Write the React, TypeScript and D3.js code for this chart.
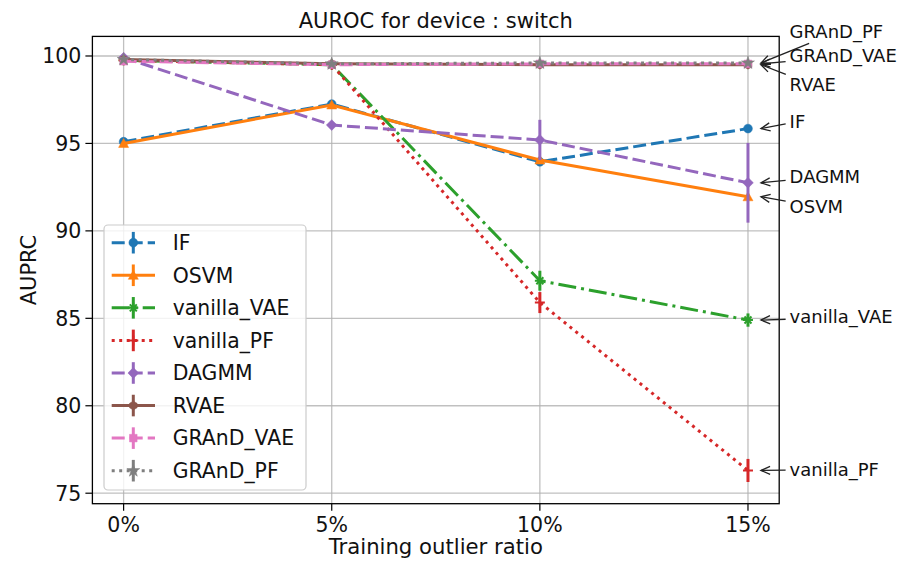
import React, { useEffect, useRef } from "react";
import * as d3 from "d3";

const ratios = [0, 5, 10, 15];
const xTickLabels = ["0%", "5%", "10%", "15%"];
const yTicks = [75, 80, 85, 90, 95, 100];

const ifMean = [95.1, 97.25, 93.95, 95.85];
const ifErr = [0.1, 0.1, 0.1, 0.1];
const osvmMean = [95.0, 97.2, 94.05, 91.95];
const osvmErr = [0.05, 0.05, 0.05, 0.05];
const vvaeMean = [99.75, 99.5, 87.15, 84.9];
const vvaeErr = [0.05, 0.05, 0.57, 0.38];
const vpfMean = [99.75, 99.5, 85.9, 76.3];
const vpfErr = [0.05, 0.05, 0.6, 0.66];
const dagmmMean = [99.9, 96.05, 95.2, 92.75];
const dagmmErr = [0.1, 0.2, 1.15, 2.28];
const rvaeMean = [99.8, 99.55, 99.5, 99.5];
const rvaeErr = [0.05, 0.05, 0.05, 0.05];
const gvaeMean = [99.7, 99.5, 99.55, 99.55];
const gvaeErr = [0.05, 0.05, 0.05, 0.05];
const gpfMean = [99.8, 99.55, 99.6, 99.6];
const gpfErr = [0.05, 0.05, 0.05, 0.05];

const seriesNames = ["IF", "OSVM", "vanilla_VAE", "vanilla_PF", "DAGMM", "RVAE", "GRAnD_VAE", "GRAnD_PF"];
const seriesMeans = [ifMean, osvmMean, vvaeMean, vpfMean, dagmmMean, rvaeMean, gvaeMean, gpfMean];
const seriesErrs = [ifErr, osvmErr, vvaeErr, vpfErr, dagmmErr, rvaeErr, gvaeErr, gpfErr];
const seriesColors = ["#1f77b4", "#ff7f0e", "#2ca02c", "#d62728", "#9467bd", "#8c564b", "#e377c2", "#7f7f7f"];
const seriesDash = ["13,5", null, "18,5,3,5", "3,4.5", "13,5", null, "13,5", "3,4.5"];
const seriesMarker = ["circle", "triangle", "asterisk", "plus", "diamond", "hexagon", "square", "star"];

// annotation label vertical positions (data units) in the right margin
const annotNames = ["GRAnD_PF", "GRAnD_VAE", "RVAE", "IF", "DAGMM", "OSVM", "vanilla_VAE", "vanilla_PF"];
const annotLabelY = [101.39, 100.0, 98.34, 96.24, 93.1, 91.38, 85.08, 76.37];

const W = 901, H = 562;
const FONT = "DejaVu Sans, sans-serif";

function markerPath(type: string): { d: string; fill: boolean } {
  const r = 4.4;
  switch (type) {
    case "circle":
      return { d: d3.symbol(d3.symbolCircle, Math.PI * r * r)() as string, fill: true };
    case "triangle": {
      const s = 5;
      return { d: `M0,${-s}L${s},${s * 0.8}L${-s},${s * 0.8}Z`, fill: true };
    }
    case "diamond": {
      const s = 5.4;
      return { d: `M0,${-s}L${s},0L0,${s}L${-s},0Z`, fill: true };
    }
    case "square": {
      const s = 3.8;
      return { d: `M${-s},${-s}H${s}V${s}H${-s}Z`, fill: true };
    }
    case "star":
      return { d: d3.symbol(d3.symbolStar, 52)() as string, fill: true };
    case "hexagon": {
      const pts = d3.range(6).map((i) => {
        const a = (Math.PI / 3) * i + Math.PI / 6;
        return [Math.cos(a) * 4.4, Math.sin(a) * 4.4];
      });
      return { d: "M" + pts.map((p) => p.join(",")).join("L") + "Z", fill: true };
    }
    case "plus": {
      const s = 5;
      return { d: `M${-s},0H${s}M0,${-s}V${s}`, fill: false };
    }
    case "asterisk": {
      const s = 5;
      const c = s * 0.7;
      return { d: `M${-s},0H${s}M0,${-s}V${s}M${-c},${-c}L${c},${c}M${-c},${c}L${c},${-c}`, fill: false };
    }
  }
  return { d: "", fill: true };
}

export default function App() {
  const ref = useRef<SVGSVGElement | null>(null);

  useEffect(() => {
    const svg = d3.select(ref.current);
    svg.selectAll("*").remove();

    const left = 92.4, right = 779.2, top = 36.4, bottom = 503.7;
    const x = d3.scaleLinear().domain([-0.75, 15.75]).range([left, right]);
    const y = d3.scaleLinear().domain([74.4, 101.12]).range([bottom, top]);

    svg.append("rect").attr("width", W).attr("height", H).attr("fill", "white");

    const g = svg.append("g");
    // grid
    ratios.forEach((r) => {
      g.append("line").attr("x1", x(r)).attr("x2", x(r)).attr("y1", top).attr("y2", bottom)
        .attr("stroke", "#b0b0b0").attr("stroke-width", 1.3).attr("stroke-opacity", 0.8);
    });
    yTicks.forEach((t) => {
      g.append("line").attr("x1", left).attr("x2", right).attr("y1", y(t)).attr("y2", y(t))
        .attr("stroke", "#b0b0b0").attr("stroke-width", 1.3).attr("stroke-opacity", 0.8);
    });

    // series
    const line = d3.line<number>().x((_, i) => x(ratios[i])).y((v) => y(v));
    seriesNames.forEach((name, si) => {
      const color = seriesColors[si];
      const means = seriesMeans[si];
      const errs = seriesErrs[si];
      const sg = g.append("g");
      sg.append("path").attr("d", line(means) as string).attr("fill", "none")
        .attr("stroke", color).attr("stroke-width", 3)
        .attr("stroke-dasharray", seriesDash[si] ?? null);
      means.forEach((m, i) => {
        sg.append("line").attr("x1", x(ratios[i])).attr("x2", x(ratios[i]))
          .attr("y1", y(m - errs[i])).attr("y2", y(m + errs[i]))
          .attr("stroke", color).attr("stroke-width", 3);
      });
      const mk = markerPath(seriesMarker[si]);
      means.forEach((m, i) => {
        sg.append("path").attr("d", mk.d)
          .attr("transform", `translate(${x(ratios[i])},${y(m)})`)
          .attr("fill", mk.fill ? color : "none")
          .attr("stroke", color).attr("stroke-width", mk.fill ? 0.5 : 2);
      });
    });

    // axes frame
    svg.append("rect").attr("x", left).attr("y", top).attr("width", right - left).attr("height", bottom - top)
      .attr("fill", "none").attr("stroke", "black").attr("stroke-width", 1.3);

    // ticks
    ratios.forEach((r, i) => {
      svg.append("line").attr("x1", x(r)).attr("x2", x(r)).attr("y1", bottom).attr("y2", bottom + 7)
        .attr("stroke", "black").attr("stroke-width", 1.2);
      svg.append("text").attr("x", x(r)).attr("y", bottom + 28).attr("text-anchor", "middle")
        .attr("font-family", FONT).attr("font-size", 20.5).attr("fill", "#111").text(xTickLabels[i]);
    });
    yTicks.forEach((t) => {
      svg.append("line").attr("x1", left - 7).attr("x2", left).attr("y1", y(t)).attr("y2", y(t))
        .attr("stroke", "black").attr("stroke-width", 1.2);
      svg.append("text").attr("x", left - 11).attr("y", y(t)).attr("dy", "0.36em").attr("text-anchor", "end")
        .attr("font-family", FONT).attr("font-size", 20.5).attr("fill", "#111").text(String(t));
    });

    // labels
    svg.append("text").attr("x", (left + right) / 2).attr("y", 28).attr("text-anchor", "middle")
      .attr("font-family", FONT).attr("font-size", 21).attr("fill", "#111").text("AUROC for device : switch");
    svg.append("text").attr("x", (left + right) / 2).attr("y", 554).attr("text-anchor", "middle")
      .attr("font-family", FONT).attr("font-size", 21.2).attr("fill", "#111").text("Training outlier ratio");
    svg.append("text").attr("transform", `translate(36,${(top + bottom) / 2}) rotate(-90)`)
      .attr("text-anchor", "middle")
      .attr("font-family", FONT).attr("font-size", 21).attr("fill", "#111").text("AUPRC");

    // legend
    const lg = svg.append("g");
    const lx = 104, ly = 225, lw = 202, lh = 265;
    lg.append("rect").attr("x", lx).attr("y", ly).attr("width", lw).attr("height", lh).attr("rx", 4)
      .attr("fill", "white").attr("fill-opacity", 0.8).attr("stroke", "#cccccc").attr("stroke-width", 1.2);
    seriesNames.forEach((name, si) => {
      const cy = 242.7 + si * 32.57;
      const color = seriesColors[si];
      lg.append("line").attr("x1", 111.7).attr("x2", 155).attr("y1", cy).attr("y2", cy)
        .attr("stroke", color).attr("stroke-width", 3).attr("stroke-dasharray", seriesDash[si] ?? null);
      lg.append("line").attr("x1", 133.3).attr("x2", 133.3).attr("y1", cy - 10.8).attr("y2", cy + 10.8)
        .attr("stroke", color).attr("stroke-width", 3);
      const mk = markerPath(seriesMarker[si]);
      lg.append("path").attr("d", mk.d).attr("transform", `translate(133.3,${cy})`)
        .attr("fill", mk.fill ? color : "none").attr("stroke", color).attr("stroke-width", mk.fill ? 0.5 : 2);
      lg.append("text").attr("x", 172.7).attr("y", cy).attr("dy", "0.36em")
        .attr("font-family", FONT).attr("font-size", 20.4).attr("fill", "#111").text(name);
    });

    // annotations
    const ag = svg.append("g");
    const lastIdx = ratios.length - 1;
    annotNames.forEach((name, ai) => {
      const si = seriesNames.indexOf(name);
      const py = y(seriesMeans[si][lastIdx]);
      const tipX = x(ratios[lastIdx]) + 13;
      const tx = x(16.0);
      const ty = y(annotLabelY[ai]);
      const t = ag.append("text").attr("x", tx).attr("y", ty).attr("dy", "0.36em")
        .attr("font-family", FONT).attr("font-size", 18).attr("fill", "#111").text(name);
      const bb = (t.node() as SVGTextElement).getBBox();
      const cx = bb.x + bb.width / 2, cy = bb.y + bb.height / 2;
      const dx = tipX - cx, dy = py - cy;
      const hw = bb.width / 2 + 1, hh = bb.height / 2 - 1;
      let tc = Infinity;
      if (dx !== 0) tc = Math.min(tc, hw / Math.abs(dx));
      if (dy !== 0) tc = Math.min(tc, hh / Math.abs(dy));
      const len = Math.hypot(dx, dy);
      const sx = cx + dx * tc + (dx / len) * 3;
      const sy = cy + dy * tc + (dy / len) * 3;
      ag.append("line").attr("x1", sx).attr("y1", sy).attr("x2", tipX).attr("y2", py)
        .attr("stroke", "#222").attr("stroke-width", 1.3);
      const ang = Math.atan2(sy - py, sx - tipX);
      const hl = 10, spread = 0.42;
      ag.append("path")
        .attr("d", `M${tipX + hl * Math.cos(ang + spread)},${py + hl * Math.sin(ang + spread)}L${tipX},${py}L${tipX + hl * Math.cos(ang - spread)},${py + hl * Math.sin(ang - spread)}`)
        .attr("fill", "none").attr("stroke", "#222").attr("stroke-width", 1.3);
    });
  }, []);

  return <svg ref={ref} width={W} height={H} style={{ display: "block", position: "absolute", left: 0, top: 0 }} />;
}
